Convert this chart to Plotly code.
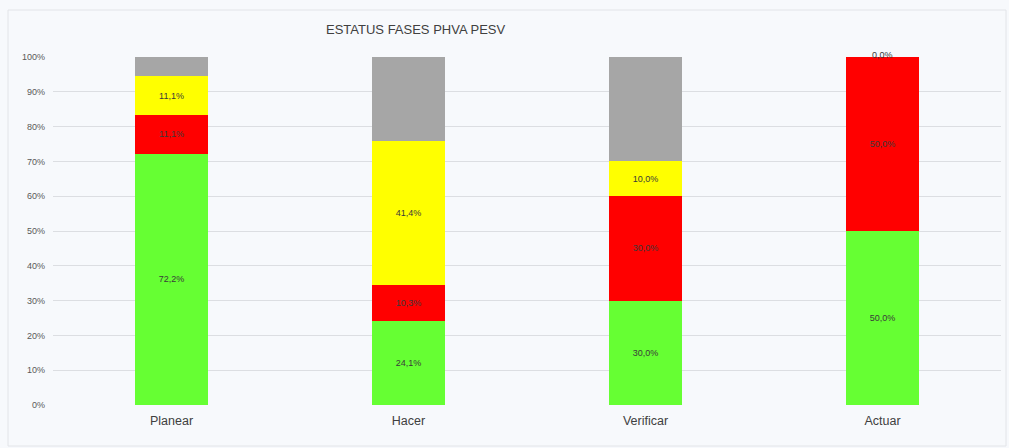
import plotly.graph_objects as go

# Phases of the PHVA cycle and the share of items in each status
fases = ["Planear", "Hacer", "Verificar", "Actuar"]
verde = [72.2, 24.1, 30.0, 50.0]
rojo = [11.1, 10.3, 30.0, 50.0]
amarillo = [11.1, 41.4, 10.0, 0.0]
gris = [5.6, 24.1, 30.0, 0.0]

series = [
    ("Verde", verde, "#66ff33", True),
    ("Rojo", rojo, "#ff0000", True),
    ("Amarillo", amarillo, "#ffff00", True),
    ("Gris", gris, "#a6a6a6", False),
]

FUENTE = "Liberation Sans, Arial"

fig = go.Figure()
for nombre, vals, color, etiqueta in series:
    textos = []
    for v in vals:
        if etiqueta and v > 0:
            textos.append(f"{v:.1f}".replace(".", ",") + "%")
        else:
            textos.append("")
    fig.add_trace(go.Bar(
        name=nombre, x=fases, y=vals, marker=dict(color=color, line=dict(width=0)),
        text=textos, textposition="inside", insidetextanchor="middle",
        textfont=dict(size=9, color="#3a3a3a", family=FUENTE),
        textangle=0, constraintext="none", width=0.31,
    ))

# Zero-height segments still carry their value label at the top of the stack
for i, f in enumerate(fases):
    if amarillo[i] == 0:
        base = verde[i] + rojo[i]
        fig.add_annotation(
            x=f, y=base + amarillo[i], text=f"{amarillo[i]:.1f}".replace(".", ",") + "%",
            showarrow=False, yanchor="middle", yshift=2,
            font=dict(size=9, color="#3a3a3a", family=FUENTE),
        )

# chart title, positioned in pixels relative to the plot area
fig.add_annotation(
    x=(415 - 53) / 948, y=(448 - 43 - 30) / 348, xref="paper", yref="paper",
    text="ESTATUS FASES PHVA PESV", showarrow=False, yanchor="middle",
    font=dict(size=13, color="#404040", family=FUENTE),
)

# outer chart frame
fig.add_shape(
    type="rect", xref="paper", yref="paper",
    x0=(8 - 53) / 948, x1=(1006 - 53) / 948,
    y0=(448 - 43 - 446) / 348, y1=(448 - 43 - 10) / 348,
    line=dict(color="#e2e4e8", width=1), fillcolor="rgba(0,0,0,0)", layer="below",
)

fig.update_layout(
    barmode="stack",
    width=1009, height=448,
    margin=dict(l=53, r=8, t=57, b=43),
    paper_bgcolor="#f7f9fc",
    plot_bgcolor="#f7f9fc",
    showlegend=False,
    font=dict(family=FUENTE, color="#595959"),
)
fig.update_yaxes(
    range=[0, 100], dtick=10, ticksuffix="%", showgrid=True,
    gridcolor="#dcdee2", gridwidth=1, zeroline=False, showline=False,
    tickfont=dict(size=9, color="#595959"), ticks="", ticklabelstandoff=7,
)
fig.update_xaxes(
    showgrid=False, showline=False, ticks="",
    tickfont=dict(size=12.5, color="#404040"), ticklabelstandoff=6,
)

fig.write_html("out.html")
